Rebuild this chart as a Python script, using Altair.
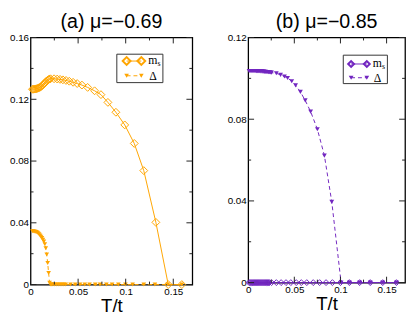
import altair as alt
import pandas as pd

# ---------------- data ----------------
# panel (a) mu = -0.69
a_ms_T = [0.002, 0.003, 0.004, 0.005, 0.006, 0.007, 0.008, 0.009, 0.010, 0.011,
          0.012, 0.013, 0.014, 0.015, 0.016, 0.017, 0.018, 0.019, 0.020, 0.021,
          0.0247, 0.028, 0.031, 0.034, 0.0373, 0.0407, 0.0447, 0.049, 0.054, 0.060,
          0.0673, 0.074, 0.0813, 0.0897, 0.099, 0.109, 0.119, 0.1317, 0.1447, 0.159]
a_ms_v = [0.1265, 0.1265, 0.1266, 0.1267, 0.1268, 0.1270, 0.1272, 0.1275, 0.1278, 0.1282,
          0.1287, 0.1293, 0.1299, 0.1306, 0.1313, 0.1319, 0.1324, 0.1328, 0.1331, 0.1333,
          0.1333, 0.1331, 0.1329, 0.1326, 0.1322, 0.1317, 0.1310, 0.1302, 0.1292, 0.1277,
          0.1255, 0.1230, 0.1180, 0.1116, 0.1034, 0.0914, 0.0738, 0.0403, 0.0, 0.0]

a_d_T = [0.002, 0.003, 0.004, 0.005, 0.006, 0.007, 0.008, 0.009, 0.010, 0.011,
         0.012, 0.013, 0.014, 0.015, 0.016, 0.017, 0.018, 0.019, 0.020, 0.021,
         0.022, 0.0235, 0.025, 0.027, 0.029, 0.031, 0.033, 0.035, 0.037, 0.042,
         0.047, 0.052, 0.057, 0.062, 0.068, 0.073, 0.0797, 0.0857, 0.0923, 0.0997,
         0.1073, 0.119, 0.1307, 0.1443, 0.159]
a_d_v = [0.0345, 0.0345, 0.0344, 0.0342, 0.0340, 0.0337, 0.0332, 0.0326, 0.0318, 0.0310,
         0.0301, 0.0291, 0.0279, 0.0262, 0.0235, 0.0195, 0.0140, 0.0075, 0.0012, 0.0,
         0.0, 0.0, 0.0, 0.0, 0.0, 0.0, 0.0, 0.0, 0.0, 0.0,
         0.0, 0.0, 0.0, 0.0, 0.0, 0.0, 0.0, 0.0, 0.0, 0.0,
         0.0, 0.0, 0.0, 0.0, 0.0]

# panel (b) mu = -0.85
b_ms_T = [0.001, 0.002, 0.003, 0.004, 0.005, 0.006, 0.007, 0.008, 0.009, 0.010,
          0.011, 0.012, 0.013, 0.014, 0.015, 0.016, 0.017, 0.018, 0.019, 0.020,
          0.021, 0.022, 0.023, 0.0253, 0.0305, 0.0357, 0.041, 0.0462, 0.0521, 0.0576,
          0.0635, 0.0705, 0.0774, 0.0844, 0.0913, 0.100, 0.1097, 0.1208, 0.1323, 0.1458,
          0.1607]
b_ms_v = [0.0] * 41

b_d_T = [0.001, 0.002, 0.003, 0.004, 0.005, 0.006, 0.007, 0.008, 0.009, 0.010,
         0.011, 0.012, 0.013, 0.014, 0.015, 0.016, 0.017, 0.018, 0.019, 0.020,
         0.021, 0.022, 0.023, 0.024, 0.0253, 0.0305, 0.0351, 0.0393, 0.0427, 0.0472,
         0.0514, 0.0566, 0.0618, 0.0677, 0.075, 0.0826, 0.0906, 0.1007, 0.1097, 0.1208,
         0.1323, 0.1458, 0.1607]
b_d_v = [0.1036, 0.1036, 0.1036, 0.1036, 0.1036, 0.1036, 0.1036, 0.1036, 0.1035, 0.1035,
         0.1035, 0.1035, 0.1034, 0.1034, 0.1034, 0.1033, 0.1033, 0.1032, 0.1032, 0.1031,
         0.1031, 0.1030, 0.1030, 0.1029, 0.1028, 0.1025, 0.1017, 0.1009, 0.1002, 0.0986,
         0.0966, 0.0934, 0.0892, 0.0837, 0.0751, 0.0622, 0.0395, 0.0, 0.0, 0.0,
         0.0, 0.0, 0.0]

x_major = [0.05, 0.1, 0.15]
x_minor = [0.025, 0.075, 0.125]
x_labels = [0, 0.05, 0.1, 0.15]
a_y_labels = [0, 0.04, 0.08, 0.12, 0.16]
a_y_minor = [0.02, 0.06, 0.10, 0.14]
b_y_labels = [0, 0.04, 0.08, 0.12]
b_y_minor = [0.02, 0.06, 0.10]

ORANGE = "#FFA500"
PURPLE = "#7226C0"
TICK = "#222222"
FONT = "Liberation Sans"
SERIF = "Liberation Serif"
LBL = "datum.value == 0 ? '0' : format(datum.value, '.2~f')"


def panel(title, ms_T, ms_v, d_T, d_v, color, ydom, ylabels, yminor,
          W, H, dsize, tsize, leg):
    xs = alt.Scale(domain=[0, 0.17], nice=False, zero=False)
    ys = alt.Scale(domain=ydom, nice=False, zero=False)
    dms = pd.DataFrame({"T": ms_T, "v": ms_v})
    dd = pd.DataFrame({"T": d_T, "v": d_v})

    xax = alt.Axis(values=x_labels, labelExpr=LBL, ticks=False, domain=False, grid=False,
                   title="T/t", labelFlush=False, labelOverlap=False, labelPadding=2,
                   titlePadding=0, titleFontSize=19, titleFontWeight="normal",
                   titleFont=FONT, labelFont=FONT, labelFontSize=10, labelColor="black",
                   titleColor="black")
    yax = alt.Axis(values=ylabels, labelExpr=LBL, ticks=False, domain=False, grid=False,
                   title=None, labelFlush=False, labelOverlap=False, labelPadding=2,
                   labelFont=FONT, labelFontSize=10, labelColor="black")

    X = lambda f: alt.X(f, scale=xs, axis=xax)
    Y = lambda f: alt.Y(f, scale=ys, axis=yax)

    ms_line = alt.Chart(dms).mark_line(color=color, strokeWidth=1).encode(
        x=X("T:Q"), y=Y("v:Q"))
    ms_pts = alt.Chart(dms).mark_point(shape="diamond", filled=False, color=color,
                                       size=dsize, strokeWidth=1, opacity=1).encode(
        x=X("T:Q"), y=Y("v:Q"))
    d_line = alt.Chart(dd).mark_line(color=color, strokeWidth=1, strokeDash=[4, 3]).encode(
        x=X("T:Q"), y=Y("v:Q"))
    d_pts = alt.Chart(dd).mark_point(shape="triangle-down", filled=True, color=color,
                                     size=tsize, opacity=1).encode(
        x=X("T:Q"), y=Y("v:Q"))

    layers = [ms_line, ms_pts, d_line, d_pts]

    def xt(vals, L, top):
        return alt.Chart(pd.DataFrame({"t": vals})).mark_rule(color=TICK, strokeWidth=1).encode(
            x=X("t:Q"),
            y=alt.value(0 if top else H), y2=alt.value(L if top else H - L))

    def yt(vals, L, right):
        return alt.Chart(pd.DataFrame({"t": vals})).mark_rule(color=TICK, strokeWidth=1).encode(
            y=Y("t:Q"),
            x=alt.value(W if right else 0), x2=alt.value(W - L if right else L))

    layers += [xt(x_major, 6, False), xt(x_minor, 3, False),
               xt(x_major, 6, True), xt(x_minor, 3, True),
               yt(ylabels, 6, False), yt(yminor, 3, False),
               yt(ylabels, 6, True), yt(yminor, 3, True)]

    # legend box
    one = pd.DataFrame({"k": [0]})
    bx0, bx1, by0, by1, sx0, sx1, tx, r1, r2 = leg
    box = alt.Chart(one).mark_rect(fill="white", stroke="#333333", strokeWidth=1).encode(
        x=alt.value(bx0), x2=alt.value(bx1), y=alt.value(by0), y2=alt.value(by1))
    l1 = alt.Chart(one).mark_rule(color=color, strokeWidth=1).encode(
        x=alt.value(sx0), x2=alt.value(sx1), y=alt.value(r1))
    l2 = alt.Chart(one).mark_rule(color=color, strokeWidth=1, strokeDash=[4, 3]).encode(
        x=alt.value(sx0), x2=alt.value(sx1), y=alt.value(r2))
    p1a = alt.Chart(one).mark_point(shape="diamond", filled=False, color=color, size=dsize,
                                    opacity=1).encode(x=alt.value(sx0), y=alt.value(r1))
    p1b = alt.Chart(one).mark_point(shape="diamond", filled=False, color=color, size=dsize,
                                    opacity=1).encode(x=alt.value(sx1), y=alt.value(r1))
    p2a = alt.Chart(one).mark_point(shape="triangle-down", filled=True, color=color, size=tsize,
                                    opacity=1).encode(x=alt.value(sx0), y=alt.value(r2))
    p2b = alt.Chart(one).mark_point(shape="triangle-down", filled=True, color=color, size=tsize,
                                    opacity=1).encode(x=alt.value(sx1), y=alt.value(r2))
    t1 = alt.Chart(one).mark_text(text="m", font=SERIF, fontSize=12, align="left",
                                  baseline="middle", color="black").encode(
        x=alt.value(tx), y=alt.value(r1 - 1))
    t1s = alt.Chart(one).mark_text(text="s", font=SERIF, fontSize=8, align="left",
                                   baseline="middle", color="black").encode(
        x=alt.value(tx + 9.5), y=alt.value(r1 + 3))
    t2 = alt.Chart(one).mark_text(text="Δ", font=SERIF, fontSize=12, align="left",
                                  baseline="middle", color="black").encode(
        x=alt.value(tx + 1), y=alt.value(r2))
    layers += [box, l1, l2, p1a, p1b, p2a, p2b, t1, t1s, t2]

    return alt.layer(*layers).properties(
        width=W, height=H,
        title=alt.TitleParams(title, font=FONT, fontSize=20, fontWeight="normal",
                              anchor="middle", offset=1, color="black"))


Wa, Ha = 165, 252
Wb, Hb = 160, 250
pa = panel("(a) μ=−0.69", a_ms_T, a_ms_v, a_d_T, a_d_v, ORANGE, [0, 0.16],
           a_y_labels, a_y_minor, Wa, Ha, 64, 22,
           (Wa - 77, Wa - 30, 17, 46, Wa - 67, Wa - 52, Wa - 45, 24, 39))
pb = panel("(b) μ=−0.85", b_ms_T, b_ms_v, b_d_T, b_d_v, PURPLE, [0, 0.12],
           b_y_labels, b_y_minor, Wb, Hb, 36, 24,
           (Wb - 63, Wb - 18, 18, 47, Wb - 55, Wb - 39, Wb - 33, 27, 41))

chart = alt.hconcat(pa, pb, spacing=32).properties(
    padding={"left": 0, "top": 0, "right": 0, "bottom": 0},
    background="white",
).configure_view(stroke="black", strokeWidth=1.3)

chart.save("out.html", embed_options={"renderer": "svg", "actions": False})
